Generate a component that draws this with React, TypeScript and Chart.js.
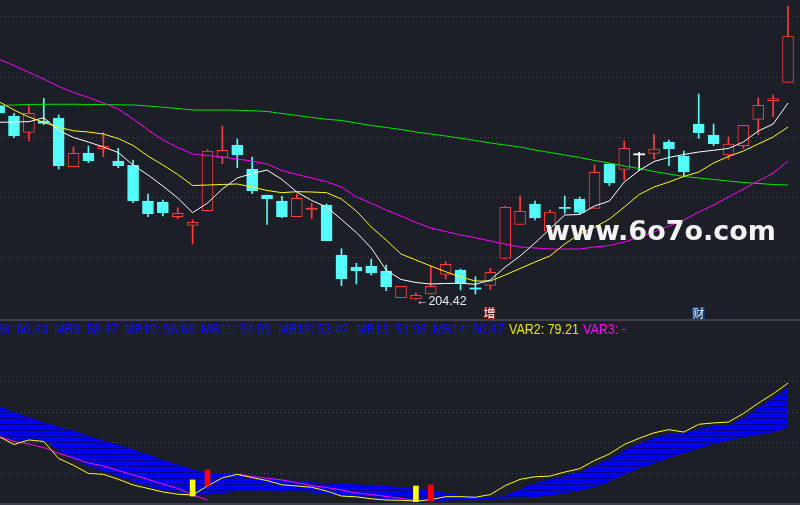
import React, { useEffect, useRef } from "react";
import { Chart, registerables } from "chart.js";

Chart.register(...registerables);

const BG = "#1d1f28";
const GRID = "#4b4e58";
const SEP = "#3d404c";
const UP = "#ff3c3c";
const DOWN = "#54fcfc";
const FLAT = "#ffffff";

// ---- price panel data (one entry per trading day) ----
const opens = [252.75, 250.25, 246.17, 249.0, 249.75, 237.58, 241.0, 242.08, 239.0, 237.92, 229.0, 228.75, 225.08, 222.92, 226.58, 239.92, 243.0, 237.0, 230.5, 229.0, 225.08, 227.0, 228.0, 215.5, 212.5, 212.75, 211.5, 204.83, 204.5, 205.75, 210.67, 211.75, 207.25, 207.92, 214.67, 223.17, 228.25, 221.5, 227.38, 229.42, 227.17, 238.25, 236.92, 240.67, 240.92, 243.75, 240.25, 248.25, 245.5, 240.5, 242.83, 249.42, 254.08, 258.67];
const highs = [253.25, 250.92, 252.83, 254.67, 250.5, 242.5, 242.75, 246.08, 242.17, 239.25, 230.75, 229.25, 227.25, 224.25, 241.83, 247.75, 244.5, 240.0, 230.5, 230.17, 230.75, 228.42, 228.25, 217.08, 213.42, 214.42, 213.0, 207.67, 206.0, 212.75, 213.83, 212.0, 210.08, 212.17, 227.75, 230.25, 229.0, 226.75, 230.25, 230.0, 238.0, 238.38, 244.0, 241.17, 245.75, 244.25, 241.5, 255.75, 248.25, 245.0, 247.92, 254.75, 255.5, 277.75];
const lows = [250.75, 244.83, 244.08, 248.12, 237.0, 237.58, 238.58, 240.08, 237.33, 228.58, 225.08, 225.25, 224.58, 218.25, 226.58, 238.33, 237.33, 230.83, 223.17, 224.83, 225.08, 224.58, 219.08, 207.83, 208.25, 210.5, 206.58, 204.83, 204.42, 205.75, 209.5, 206.75, 205.75, 206.92, 214.67, 223.17, 224.25, 221.25, 225.92, 225.75, 227.17, 232.83, 234.25, 236.58, 239.5, 237.83, 235.25, 244.67, 242.83, 239.42, 242.17, 245.58, 250.08, 258.67];
const closes = [251.0, 245.33, 250.92, 248.38, 237.75, 240.92, 239.08, 242.75, 237.83, 229.08, 225.83, 226.08, 225.92, 223.67, 241.5, 241.67, 240.5, 231.58, 229.5, 225.0, 229.67, 227.12, 219.08, 209.58, 211.58, 211.0, 207.58, 207.67, 205.42, 207.67, 213.17, 208.42, 207.0, 211.17, 227.42, 226.42, 224.75, 226.25, 227.17, 226.12, 236.17, 233.58, 242.17, 240.67, 242.0, 242.08, 236.33, 246.08, 243.33, 243.25, 247.92, 252.92, 254.58, 270.25];

const ma5 = [248.68, 248.75, 248.83, 249.83, 246.63, 244.88, 243.75, 242.5, 241.13, 238.0, 235.5, 232.75, 229.75, 226.08, 228.5, 232.0, 234.75, 235.88, 236.75, 234.38, 231.25, 229.13, 227.5, 224.38, 221.13, 217.25, 211.75, 209.38, 208.63, 208.25, 208.38, 208.43, 208.18, 209.25, 212.5, 215.25, 218.5, 222.0, 225.5, 225.63, 227.75, 229.0, 233.75, 236.63, 238.88, 239.88, 240.63, 241.25, 241.68, 242.13, 243.75, 246.5, 248.25, 253.5];
const ma10 = [253.83, 251.75, 250.0, 248.63, 247.43, 246.55, 246.25, 245.75, 244.63, 242.88, 240.25, 238.0, 235.63, 232.88, 233.0, 233.13, 233.25, 232.5, 231.63, 231.08, 231.33, 231.25, 231.08, 229.5, 226.5, 222.5, 219.25, 215.75, 214.25, 212.75, 211.33, 210.0, 209.0, 209.0, 210.5, 212.13, 213.75, 215.25, 218.25, 220.75, 222.38, 224.5, 227.5, 230.63, 232.5, 233.75, 235.13, 236.25, 238.5, 240.13, 241.5, 243.25, 245.0, 247.5];
const ma20 = [264.43, 262.85, 261.18, 259.5, 257.63, 256.13, 254.88, 253.5, 252.0, 249.5, 246.75, 244.25, 242.38, 240.75, 240.38, 240.0, 239.5, 239.0, 238.25, 236.63, 235.63, 234.75, 233.83, 232.5, 230.0, 228.45, 226.75, 225.25, 223.63, 222.25, 221.38, 220.5, 219.83, 219.0, 218.25, 217.5, 217.25, 217.0, 217.0, 217.0, 217.5, 217.88, 218.75, 220.0, 221.25, 222.75, 224.25, 226.25, 228.0, 230.0, 232.0, 234.0, 236.0, 239.0];
const ma60 = [252.88, 253.0, 253.13, 253.18, 253.18, 253.18, 253.13, 253.13, 253.05, 253.0, 252.75, 252.43, 252.13, 251.75, 251.75, 251.75, 251.68, 251.58, 251.38, 250.88, 250.38, 249.88, 249.43, 249.13, 248.5, 247.88, 247.38, 246.88, 246.25, 245.75, 245.25, 244.68, 244.13, 243.5, 243.0, 242.5, 241.75, 241.13, 240.5, 239.88, 239.13, 238.5, 237.75, 237.13, 236.38, 235.75, 235.13, 234.75, 234.38, 234.0, 233.63, 233.38, 233.13, 233.0];

const priceTicks = [215, 230, 245, 260, 275];

// ---- indicator panel data ----
const var2 = [43.9, 38.8, 41.8, 40.8, 29.6, 25.1, 19.8, 19.2, 16.0, 12.2, 9.9, 7.6, 6.1, 5.6, 11.5, 16.9, 19.2, 17.0, 15.1, 12.3, 11.5, 10.7, 8.2, 4.9, 4.4, 3.1, 2.3, 2.1, 1.6, 2.5, 4.5, 4.5, 4.1, 5.9, 11.8, 15.9, 17.6, 18.0, 20.7, 22.9, 28.3, 32.6, 38.8, 42.9, 46.5, 48.6, 47.0, 52.1, 53.0, 53.6, 59.2, 66.0, 72.2, 79.21];
const var3 = [44.1, 40.8, 39.1, 36.8, 32.9, 29.9, 26.6, 24.7, 21.7, 18.8, 15.8, 12.8, 9.9, 5.6, 2.3, null, 19.2, 17.8, 16.6, 15.5, 13.7, 11.8, 10.5, 8.9, 6.9, 5.9, 4.6, 3.4, 1.8, null, null, null, null, null, null, null, null, null, null, null, null, null, null, null, null, null, null, null, null, null, null, null, null, null];
const mb1 = [45.1, 41.8, 41.8, 41.8, 35.2, 29.9, 24.7, 21.4, 18.1, 14.8, 11.5, 9.2, 7.6, 6.3, 6.3, 6.9, 8.9, 8.9, 8.9, 8.6, 8.2, 7.6, 6.6, 5.6, 4.3, 3.6, 3.0, 2.6, 2.3, 2.0, 2.3, 2.6, 2.6, 3.0, 5.0, 9.0, 13.0, 15.5, 17.8, 20.5, 24.5, 29.0, 34.5, 39.0, 43.0, 45.5, 45.5, 49.0, 50.5, 51.0, 56.0, 62.5, 69.0, 76.0];
const mb14 = [63.5, 59.9, 56.3, 53.0, 50.0, 47.4, 44.1, 41.1, 38.2, 35.2, 31.9, 28.3, 25.3, 22.0, 19.7, 19.1, 18.8, 17.8, 16.8, 15.1, 14.3, 13.5, 13.2, 12.5, 12.2, 11.5, 11.2, 10.2, 9.2, 7.9, 6.6, 5.3, 4.3, 3.6, 3.6, 3.9, 4.6, 5.6, 6.9, 8.9, 11.1, 14.8, 19.4, 23.4, 26.8, 30.3, 33.4, 36.5, 39.6, 41.8, 43.9, 45.7, 47.2, 50.47];
const yellowSignals = [[13, 4.9, 15.5], [28, 1.2, 11.5]];
const redSignals = [[14, 11.5, 22.0], [29, 1.8, 12.2]];
const indTicks = [20, 40, 60, 80];

const mbNames = ["MB8", "MB9", "MB10", "MB11", "MB12", "MB13", "MB14"];
const mbLast = [60.43, 58.47, 56.66, 54.99, 53.42, 51.93, 50.47];

const tags = [
  { index: 33, text: "增", bg: "#820404", fg: "#ffffff" },
  { index: 47, text: "财", bg: "#173a63", fg: "#e2eaff" },
];

const X_MIN = 0.0595;
const X_MAX = 53.805;

const idx = opens.map((_, i) => i);
const candleColor = (i: number) =>
  closes[i] > opens[i] ? UP : closes[i] < opens[i] ? DOWN : FLAT;
const isDoji = (i: number) => Math.abs(closes[i] - opens[i]) < 0.3;
const bodyRange = (i: number) => {
  if (isDoji(i)) {
    const m = (opens[i] + closes[i]) / 2;
    return [m - 0.14, m + 0.14];
  }
  return [opens[i], closes[i]];
};

const annotPlugin = {
  id: "annot",
  afterDatasetsDraw(chart: any) {
    const { ctx, scales, chartArea } = chart;
    const x = scales.x;
    const y = scales.y;
    ctx.save();
    const minLow = Math.min(...lows);
    const li = lows.indexOf(minLow);
    const px = x.getPixelForValue(li);
    const py = y.getPixelForValue(minLow);
    ctx.font = '12.5px "Liberation Sans", Arial, sans-serif';
    ctx.fillStyle = "#e8ecf2";
    ctx.textBaseline = "middle";
    ctx.textAlign = "left";
    ctx.fillText("\u2190" + minLow.toFixed(2), px, py + 2);
    ctx.textAlign = "center";
    ctx.font = '12px "Noto Sans CJK SC", sans-serif';
    for (const t of tags) {
      const cx = x.getPixelForValue(t.index);
      const left = Math.round(cx - 7);
      ctx.fillStyle = t.bg;
      ctx.fillRect(left, chartArea.bottom - 13, 13, 12);
      ctx.fillStyle = t.fg;
      ctx.fillText(t.text, left + 6.5, chartArea.bottom - 7);
    }
    ctx.restore();
  },
};

const lineDs = (label: string, arr: (number | null)[], color: string, order: number, extra: any = {}) => ({
  type: "line",
  label,
  data: idx.map((i) => ({ x: i, y: arr[i] })),
  borderColor: color,
  borderWidth: 1,
  pointRadius: 0,
  pointHitRadius: 0,
  tension: 0,
  spanGaps: false,
  fill: false,
  order,
  ...extra,
});

const yAxis = (min: number, max: number, ticks: number[]) => ({
  type: "linear",
  min,
  max,
  ticks: { display: false },
  grid: { color: GRID, drawTicks: false, lineWidth: 1 },
  border: { display: false, dash: [1, 3] },
  afterBuildTicks: (s: any) => {
    s.ticks = ticks.map((v) => ({ value: v }));
  },
  afterFit: (s: any) => {
    s.width = 0;
  },
});

const baseOptions = {
  animation: false,
  responsive: false,
  maintainAspectRatio: false,
  events: [],
  layout: { padding: 0 },
  plugins: { legend: { display: false }, tooltip: { enabled: false } },
};

export default function App() {
  const topRef = useRef<HTMLCanvasElement>(null);
  const botRef = useRef<HTMLCanvasElement>(null);

  useEffect(() => {
    const charts: Chart[] = [];
    if (topRef.current) {
      charts.push(
        new Chart(topRef.current, {
          type: "bar",
          data: {
            datasets: [
              lineDs("MA5", ma5, "#ffffff", 1),
              lineDs("MA10", ma10, "#ffff00", 2),
              lineDs("MA20", ma20, "#ff00ff", 3),
              lineDs("MA60", ma60, "#00e800", 4),
              {
                type: "bar",
                label: "body",
                data: idx.map((i) => ({ x: i, y: bodyRange(i) })),
                backgroundColor: idx.map((i) =>
                  isDoji(i) ? candleColor(i) : closes[i] > opens[i] ? BG : candleColor(i)
                ),
                borderColor: idx.map((i) => candleColor(i)),
                borderWidth: idx.map((i) => (isDoji(i) ? 0 : 1)),
                borderSkipped: false,
                barThickness: 11,
                grouped: false,
                order: 9,
              },
              {
                type: "bar",
                label: "wick",
                data: idx.map((i) => ({ x: i, y: [lows[i], highs[i]] })),
                backgroundColor: idx.map((i) => candleColor(i)),
                borderWidth: 0,
                barThickness: 1,
                grouped: false,
                order: 10,
              },
            ] as any,
          },
          options: {
            ...baseOptions,
            scales: {
              x: { type: "linear", min: X_MIN, max: X_MAX, display: false, offset: false },
              y: yAxis(199.25, 279.25, priceTicks),
            },
          } as any,
          plugins: [annotPlugin],
        })
      );
    }
    if (botRef.current) {
      const tile = document.createElement("canvas");
      tile.width = 1;
      tile.height = 3;
      const tctx = tile.getContext("2d")!;
      tctx.fillStyle = "#0000ff";
      tctx.fillRect(0, 0, 1, 2);
      tctx.fillStyle = "#0a0a80";
      tctx.fillRect(0, 2, 1, 1);
      const pattern = botRef.current.getContext("2d")!.createPattern(tile, "repeat");
      charts.push(
        new Chart(botRef.current, {
          type: "bar",
          data: {
            datasets: [
              lineDs("MB1", mb1, "#0000ff", 6),
              lineDs("MB14", mb14, "#0000ff", 5, { fill: "-1", backgroundColor: pattern }),
              lineDs("VAR3", var3, "#ff00ff", 3),
              lineDs("VAR2", var2, "#ffff00", 2),
              {
                type: "bar",
                label: "sigY",
                data: yellowSignals.map(([i, a, b]) => ({ x: i, y: [a, b] })),
                backgroundColor: "#ffff00",
                borderWidth: 0,
                barThickness: 5,
                grouped: false,
                order: 1,
              },
              {
                type: "bar",
                label: "sigR",
                data: redSignals.map(([i, a, b]) => ({ x: i, y: [a, b] })),
                backgroundColor: "#ff0000",
                borderWidth: 0,
                barThickness: 5,
                grouped: false,
                order: 1,
              },
            ] as any,
          },
          options: {
            ...baseOptions,
            scales: {
              x: { type: "linear", min: X_MIN, max: X_MAX, display: false, offset: false },
              y: yAxis(-0.987, 120.72, indTicks),
            },
          } as any,
        })
      );
    }
    return () => charts.forEach((c) => c.destroy());
  }, []);

  const mbLeft = [-16, 54, 124, 201, 278, 356, 433];
  const headFont: React.CSSProperties = {
    position: "absolute",
    top: 323,
    fontFamily: '"Liberation Sans", Arial, sans-serif',
    fontSize: 12.5,
    lineHeight: "15px",
    whiteSpace: "nowrap",
    transform: "scaleY(1.1)",
    transformOrigin: "left center",
  };

  return (
    <div
      style={{
        position: "absolute",
        left: 0,
        top: 0,
        width: 800,
        height: 505,
        background: BG,
        overflow: "hidden",
      }}
    >
      <canvas ref={topRef} width={800} height={320} style={{ position: "absolute", left: 0, top: 0 }} />
      <canvas ref={botRef} width={800} height={185} style={{ position: "absolute", left: 0, top: 320 }} />
      <div style={{ position: "absolute", left: 0, top: 319, width: 800, height: 2, background: SEP }} />
      <div style={{ position: "absolute", left: 0, top: 503, width: 800, height: 2, background: SEP }} />
      {mbNames.map((n, k) => (
        <span key={n} style={{ ...headFont, left: mbLeft[k], color: "#1010ff" }}>
          {n}: {mbLast[k].toFixed(2)}
        </span>
      ))}
      <span style={{ ...headFont, left: 509, color: "#e6e600" }}>VAR2: {var2[var2.length - 1].toFixed(2)}</span>
      <span style={{ ...headFont, left: 583, color: "#ff00ff" }}>
        VAR3: {var3[var3.length - 1] == null ? "-" : (var3[var3.length - 1] as number).toFixed(2)}
      </span>
      <span
        style={{
          position: "absolute",
          left: 545,
          top: 217,
          fontFamily: '"DejaVu Sans", sans-serif',
          fontWeight: "bold",
          fontSize: 27,
          lineHeight: "27px",
          color: "#f4f4f4",
          whiteSpace: "nowrap",
        }}
      >
        www.6o7o.com
      </span>
    </div>
  );
}
